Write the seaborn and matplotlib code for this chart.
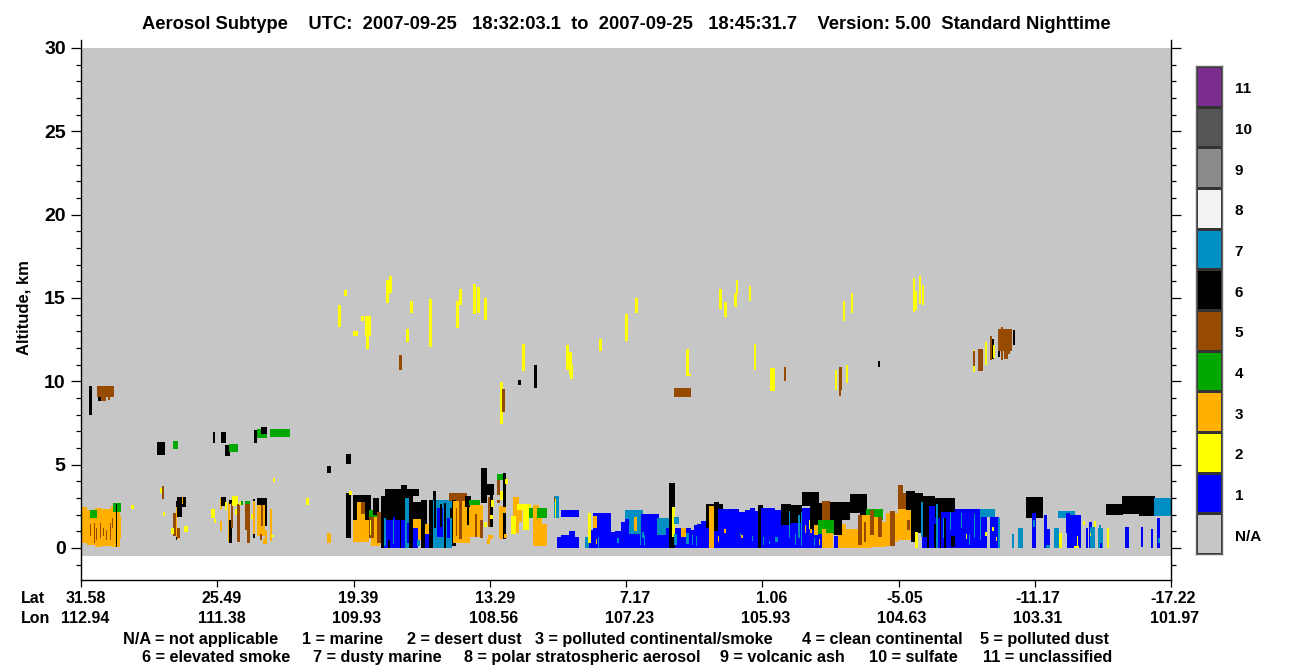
import numpy as np
import matplotlib
matplotlib.use("Agg")
import matplotlib.pyplot as plt
from matplotlib.colors import ListedColormap
from matplotlib.transforms import ScaledTranslation
import seaborn as sns

# one cell is one lidar profile across and one 60 m range bin up
N_PROFILES = 1090
TOP_BIN = 500
SURFACE_BINS = 8
BINS_PER_KM = 500 / 30

subtype_labels = ["N/A", "1", "2", "3", "4", "5", "6", "7", "8", "9", "10", "11"]
subtype_colors = ["#C6C6C6", "#0000FF", "#FFFF00", "#FFB000", "#00A800", "#964B00",
                  "#000000", "#008FC2", "#F2F2F2", "#8A8A8A", "#555555", "#7B2D90"]

lat_labels = ["31.58", "25.49", "19.39", "13.29", "7.17", "1.06", "-5.05", "-11.17", "-17.22"]
lon_labels = ["112.94", "111.38", "109.93", "108.56", "107.23", "105.93", "104.63", "103.31", "101.97"]
altitude_ticks = [0, 5, 10, 15, 20, 25, 30]

legend_row1 = ["N/A = not applicable", "1 = marine", "2 = desert dust",
               "3 = polluted continental/smoke", "4 = clean continental", "5 = polluted dust"]
legend_row2 = ["6 = elevated smoke", "7 = dusty marine", "8 = polar stratospheric aerosol",
               "9 = volcanic ash", "10 = sulfate", "11 = unclassified"]

# (subtype, first profile, last profile, base bin, top bin), later rows paint over earlier
upper_layers = [
    (2, 257, 260, 221, 243), (2, 263, 266, 252, 258), (2, 272, 277, 212, 217), (2, 280, 283, 227, 232),
    (2, 284, 290, 212, 232), (2, 285, 288, 199, 212), (2, 305, 308, 245, 268), (2, 308, 311, 255, 272),
    (5, 318, 321, 178, 193), (2, 325, 328, 206, 219), (2, 329, 332, 235, 247), (2, 348, 351, 201, 249),
    (2, 375, 378, 220, 247), (2, 378, 381, 243, 259), (2, 392, 395, 234, 264), (2, 396, 399, 235, 261),
    (2, 403, 406, 228, 250), (2, 419, 422, 124, 166), (5, 421, 424, 136, 159), (6, 437, 440, 163, 168),
    (2, 441, 444, 177, 204), (6, 453, 456, 160, 183), (2, 485, 488, 178, 203), (2, 488, 491, 173, 196),
    (2, 489, 492, 169, 183), (2, 518, 521, 197, 209), (2, 544, 547, 207, 234), (2, 554, 557, 235, 250),
    (2, 605, 608, 172, 199), (2, 608, 610, 172, 174), (5, 593, 610, 151, 160), (2, 638, 641, 239, 259),
    (2, 643, 646, 231, 246), (2, 653, 656, 241, 255), (2, 655, 657, 254, 268), (2, 668, 670, 247, 262),
    (2, 673, 675, 178, 204), (2, 689, 694, 157, 180), (5, 703, 705, 167, 181), (2, 754, 756, 158, 178),
    (5, 758, 761, 158, 181), (5, 758, 760, 152, 158), (2, 765, 767, 165, 183), (2, 762, 764, 227, 247),
    (2, 770, 772, 235, 255), (6, 797, 799, 181, 187), (2, 832, 834, 236, 270), (2, 834, 836, 238, 257),
    (2, 838, 840, 244, 272), (2, 841, 843, 243, 263), (2, 892, 894, 176, 198), (5, 892, 894, 182, 197),
    (5, 897, 902, 177, 199), (2, 904, 906, 183, 206), (5, 909, 911, 188, 212), (6, 911, 913, 189, 209),
    (2, 912, 914, 190, 203), (6, 917, 919, 191, 210), (5, 917, 931, 197, 219), (5, 920, 922, 188, 221),
    (5, 923, 929, 194, 219), (5, 923, 927, 189, 195), (6, 932, 934, 203, 218),
]

mid_layers = [
    (6, 8, 11, 133, 162), (6, 17, 21, 147, 161), (5, 16, 33, 151, 162), (5, 20, 25, 147, 151), (5, 27, 29, 148, 151),
    (6, 76, 84, 93, 106), (4, 92, 97, 99, 107), (6, 132, 134, 105, 116), (6, 140, 145, 105, 116),
    (6, 173, 176, 105, 118), (4, 176, 186, 110, 119), (6, 180, 186, 114, 121), (4, 189, 209, 111, 119),
    (6, 144, 149, 92, 103), (4, 148, 157, 96, 104), (6, 246, 250, 75, 82), (6, 265, 270, 84, 94),
]

west_layers = [
    (3, 0, 6, 5, 41), (3, 6, 14, 3, 38), (3, 14, 21, 1, 40), (3, 21, 30, 2, 39), (3, 30, 35, 1, 42),
    (3, 35, 39, 1, 44), (3, 39, 40, 10, 32), (4, 9, 16, 30, 38), (4, 32, 40, 36, 45),
    (5, 9, 10, 12, 24), (5, 13, 14, 5, 25), (5, 15, 16, 8, 20), (5, 19, 20, 10, 25), (5, 22, 23, 12, 20),
    (5, 25, 26, 8, 18), (5, 29, 30, 8, 25), (5, 31, 32, 20, 30), (6, 35, 36, 1, 44),
    (2, 50, 53, 39, 43), (2, 82, 84, 32, 36), (5, 81, 83, 49, 62), (2, 79, 81, 55, 60),
    (6, 95, 101, 31, 47), (6, 96, 105, 41, 51), (3, 101, 102, 44, 51), (3, 95, 96, 11, 41),
    (5, 92, 95, 12, 35), (3, 95, 99, 9, 20), (5, 96, 99, 10, 20), (2, 90, 93, 14, 20), (2, 103, 107, 16, 22),
    (6, 95, 96, 8, 11), (2, 130, 134, 30, 39), (2, 133, 135, 25, 29), (3, 139, 141, 17, 27),
    (3, 139, 141, 39, 50), (6, 140, 145, 42, 51), (2, 144, 146, 38, 46), (3, 147, 149, 6, 46),
    (6, 148, 151, 5, 28), (6, 148, 151, 44, 48), (5, 150, 152, 20, 45), (2, 151, 157, 42, 52),
    (2, 154, 156, 33, 39), (5, 156, 159, 6, 44), (2, 158, 160, 43, 46), (4, 160, 162, 43, 47),
    (4, 164, 169, 44, 47), (5, 164, 169, 18, 44), (5, 166, 169, 5, 18), (2, 170, 172, 29, 34),
    (6, 172, 174, 10, 49), (3, 172, 174, 14, 47), (6, 176, 186, 22, 50), (3, 176, 184, 12, 43),
    (5, 180, 182, 22, 43), (3, 184, 186, 4, 18), (3, 182, 186, 4, 9), (5, 179, 181, 8, 14), (3, 189, 191, 7, 39),
    (2, 190, 193, 11, 13), (2, 192, 194, 66, 70), (2, 225, 228, 43, 50), (3, 246, 250, 5, 15),
]

central_layers = [
    (6, 265, 270, 10, 55), (2, 268, 271, 53, 57), (6, 272, 290, 28, 53), (3, 276, 284, 18, 46),
    (3, 272, 288, 6, 28), (5, 280, 284, 34, 46), (6, 292, 298, 33, 50), (4, 288, 292, 31, 38), (4, 292, 296, 31, 33),
    (3, 290, 299, 2, 31), (5, 288, 293, 10, 31), (2, 289, 290, 13, 28), (5, 296, 300, 5, 36),
    (6, 300, 304, 0, 52), (6, 304, 338, 52, 59), (6, 320, 326, 59, 63), (6, 304, 332, 0, 52),
    (1, 303, 319, 0, 28), (7, 303, 305, 2, 30), (6, 307, 309, 0, 8), (1, 312, 314, 28, 31), (7, 312, 313, 4, 28),
    (7, 324, 328, 0, 50), (1, 320, 324, 0, 28), (1, 326, 328, 5, 25), (6, 328, 332, 0, 52), (6, 332, 340, 29, 46),
    (3, 332, 340, 18, 29), (1, 332, 337, 0, 20), (7, 336, 339, 2, 8), (3, 337, 340, 8, 18),
    (6, 340, 346, 0, 48), (3, 344, 348, 5, 24), (1, 344, 348, 0, 14), (6, 348, 352, 0, 48),
    (6, 352, 355, 0, 57), (6, 355, 371, 28, 48), (7, 352, 371, 0, 48), (1, 356, 362, 11, 40),
    (6, 359, 361, 21, 44), (6, 363, 365, 0, 45), (6, 353, 355, 20, 48), (1, 366, 369, 10, 30), (6, 369, 371, 30, 40),
    (5, 368, 386, 47, 55), (6, 371, 375, 2, 48), (3, 372, 384, 5, 47), (5, 378, 381, 9, 47), (5, 375, 376, 12, 40),
    (6, 384, 390, 23, 52), (3, 381, 389, 5, 41), (6, 386, 388, 23, 52), (4, 388, 399, 43, 48),
    (3, 389, 402, 11, 43), (5, 394, 396, 11, 34), (5, 399, 402, 10, 28), (6, 400, 406, 45, 80),
    (6, 406, 413, 53, 64), (5, 407, 409, 21, 51), (6, 409, 412, 21, 53), (2, 410, 413, 41, 48),
    (2, 409, 412, 29, 33), (2, 403, 406, 21, 26), (3, 407, 412, 9, 13), (3, 406, 409, 4, 9),
    (4, 416, 422, 68, 74), (5, 416, 419, 53, 68), (5, 416, 419, 45, 48), (2, 419, 422, 48, 57),
    (3, 418, 422, 9, 42), (6, 422, 425, 9, 75), (2, 424, 427, 64, 69), (3, 422, 425, 35, 41), (3, 423, 426, 10, 14),
    (3, 432, 438, 15, 51), (2, 430, 435, 14, 32), (2, 436, 450, 38, 44), (3, 438, 441, 26, 38),
    (2, 442, 448, 18, 38), (4, 448, 452, 30, 40), (3, 452, 458, 2, 43), (3, 458, 461, 2, 34), (3, 461, 466, 2, 24),
    (4, 456, 466, 30, 40), (7, 473, 478, 30, 52), (2, 474, 475, 30, 49), (5, 473, 474, 47, 51),
    (1, 480, 498, 31, 38), (1, 476, 498, 0, 11), (1, 480, 488, 0, 13), (1, 488, 494, 0, 17),
    (7, 504, 508, 0, 11), (1, 508, 512, 0, 18), (2, 507, 510, 5, 35),
]

marine_layers = [
    (1, 512, 530, 0, 35), (3, 512, 516, 20, 32), (1, 530, 534, 0, 16), (1, 534, 540, 0, 17), (1, 540, 544, 0, 26),
    (1, 544, 548, 0, 29), (7, 544, 562, 29, 38), (7, 548, 562, 14, 29), (1, 548, 560, 0, 14), (1, 560, 578, 0, 34),
    (3, 553, 556, 17, 31), (7, 561, 563, 10, 16), (7, 576, 588, 13, 30), (1, 578, 588, 0, 13), (1, 585, 588, 13, 20),
    (6, 588, 594, 0, 65), (2, 591, 594, 11, 41), (7, 593, 598, 24, 31), (1, 594, 600, 0, 20), (7, 593, 596, 3, 14),
    (3, 600, 605, 11, 20), (1, 600, 610, 0, 11), (1, 605, 610, 11, 20), (7, 605, 608, 4, 15), (1, 610, 613, 0, 18),
    (1, 613, 616, 0, 23), (1, 616, 620, 0, 24), (1, 620, 625, 0, 27), (6, 625, 633, 20, 44), (1, 625, 628, 0, 20),
    (3, 628, 633, 0, 42), (6, 633, 638, 17, 46), (1, 633, 658, 0, 17), (6, 638, 642, 38, 44), (1, 637, 658, 0, 39),
    (1, 658, 664, 0, 36), (1, 664, 669, 0, 38), (1, 669, 674, 0, 40), (1, 674, 677, 0, 37), (6, 677, 682, 0, 43),
    (1, 680, 694, 0, 40), (1, 694, 700, 0, 38), (1, 700, 721, 0, 25), (6, 700, 710, 23, 44), (6, 710, 721, 25, 43),
    (6, 721, 738, 42, 56), (1, 721, 729, 0, 40), (1, 729, 741, 0, 18), (6, 729, 741, 18, 45), (4, 737, 753, 14, 28),
    (5, 741, 749, 28, 47), (6, 749, 769, 28, 46), (6, 769, 786, 35, 54), (6, 753, 761, 13, 28), (1, 753, 757, 0, 12),
    (3, 733, 737, 13, 23), (3, 741, 745, 0, 19), (3, 745, 752, 0, 15), (3, 757, 761, 0, 13), (3, 761, 765, 0, 24),
    (3, 765, 789, 0, 19), (7, 517, 518, 0, 11), (7, 536, 538, 5, 10), (7, 559, 560, 3, 14), (7, 563, 564, 2, 13),
    (7, 611, 612, 3, 13), (7, 615, 616, 2, 12), (3, 515, 516, 4, 9), (3, 637, 638, 6, 12), (3, 643, 645, 15, 19),
    (3, 660, 662, 10, 13), (7, 659, 660, 12, 15), (7, 671, 672, 7, 12), (7, 682, 683, 3, 11), (7, 688, 689, 4, 7),
    (7, 694, 697, 6, 11), (7, 708, 709, 10, 37), (7, 714, 715, 3, 14), (7, 717, 719, 10, 33), (7, 720, 721, 2, 36),
    (3, 724, 725, 15, 23), (2, 728, 729, 19, 28), (3, 729, 731, 15, 19), (7, 733, 734, 2, 10), (3, 738, 739, 3, 9),
]

east_layers = [
    (6, 779, 786, 33, 54), (4, 785, 802, 28, 39), (3, 779, 790, 0, 33), (3, 790, 797, 1, 31), (3, 797, 805, 1, 26),
    (3, 805, 809, 2, 35), (5, 777, 781, 3, 33), (5, 783, 785, 6, 26), (5, 789, 793, 13, 38), (5, 797, 801, 11, 31),
    (5, 809, 814, 2, 37), (3, 814, 817, 6, 28), (5, 817, 822, 33, 63), (5, 822, 829, 38, 55), (3, 817, 831, 8, 39),
    (3, 814, 817, 14, 35), (5, 826, 829, 18, 28), (6, 825, 830, 38, 57), (6, 830, 834, 6, 57), (6, 834, 842, 41, 55),
    (6, 834, 846, 15, 45), (6, 842, 848, 0, 52), (2, 834, 837, 0, 16), (1, 841, 846, 0, 11), (7, 840, 842, 11, 46),
    (1, 848, 854, 0, 42), (6, 848, 854, 42, 52), (6, 854, 874, 30, 50), (1, 854, 860, 0, 30), (6, 853, 855, 0, 24),
    (7, 855, 857, 0, 44), (6, 859, 861, 0, 36), (1, 860, 874, 0, 36), (7, 862, 864, 10, 30), (6, 863, 865, 0, 30),
    (7, 869, 870, 18, 36), (6, 870, 874, 1, 12), (1, 874, 899, 0, 39), (1, 899, 906, 0, 36), (7, 899, 914, 31, 39),
    (1, 909, 918, 0, 31), (7, 917, 919, 0, 30), (2, 904, 906, 12, 16), (2, 911, 913, 17, 21), (2, 915, 916, 7, 11),
    (7, 880, 881, 20, 35), (7, 888, 889, 3, 14), (2, 885, 886, 9, 14), (7, 899, 900, 8, 32), (7, 893, 894, 10, 34),
    (7, 931, 933, 0, 14), (7, 937, 942, 0, 20), (6, 945, 962, 30, 51), (1, 951, 955, 0, 35), (7, 952, 954, 21, 28),
    (1, 963, 966, 0, 33), (1, 966, 969, 0, 19), (7, 965, 969, 0, 3), (7, 973, 978, 0, 20), (2, 978, 981, 0, 15),
    (7, 977, 994, 30, 37), (1, 985, 989, 15, 35), (1, 986, 1000, 0, 15), (1, 989, 1000, 15, 33), (2, 996, 997, 0, 12),
    (2, 993, 998, 0, 2), (2, 1002, 1004, 23, 27), (2, 1013, 1015, 21, 27), (1, 1005, 1007, 0, 20), (1, 1008, 1011, 0, 26),
    (7, 1009, 1014, 0, 21), (2, 1009, 1010, 12, 15), (7, 1017, 1022, 0, 20), (7, 1018, 1020, 20, 23), (1, 1019, 1021, 0, 5),
    (2, 1026, 1028, 0, 20), (6, 1025, 1042, 33, 44), (6, 1041, 1074, 34, 52), (6, 1058, 1074, 32, 52), (7, 1073, 1090, 32, 50),
    (1, 1044, 1048, 0, 21), (1, 1060, 1062, 1, 21), (1, 1070, 1072, 0, 19), (1, 1076, 1079, 0, 30), (7, 1077, 1079, 5, 10),
]

sns.set_style("ticks")
plt.rcParams["font.family"] = ["Liberation Sans", "DejaVu Sans"]
plt.rcParams["font.weight"] = "bold"
plt.rcParams["text.color"] = "black"
plt.rcParams["axes.labelcolor"] = "black"
plt.rcParams["xtick.color"] = "black"
plt.rcParams["ytick.color"] = "black"

W, H = 1300, 667
fig = plt.figure(figsize=(W / 100, H / 100), dpi=100)


def px_axes(left, top, right, bottom):
    return fig.add_axes([left / W, 1 - bottom / H, (right - left) / W, (bottom - top) / H])


# paint the curtain
grid = np.zeros((TOP_BIN + SURFACE_BINS, N_PROFILES), dtype=int)
for layers in [upper_layers, mid_layers, west_layers, central_layers, marine_layers, east_layers]:
    for subtype, p0, p1, b0, b1 in layers:
        grid[TOP_BIN - b1:TOP_BIN - b0, p0:p1] = subtype

cmap = ListedColormap(subtype_colors)
ax = px_axes(81, 40, 1171, 580)
sns.heatmap(grid, ax=ax, cmap=cmap, vmin=-0.5, vmax=11.5, cbar=False,
            xticklabels=False, yticklabels=False)
ax.set_xlim(0, N_PROFILES)
ax.set_ylim(TOP_BIN + 32, -8)

for side in ["left", "right", "bottom"]:
    ax.spines[side].set_visible(True)
    ax.spines[side].set_color("black")
    ax.spines[side].set_linewidth(1.0)
ax.spines["top"].set_visible(False)

major = [TOP_BIN - km * BINS_PER_KM for km in altitude_ticks]
minor = [TOP_BIN - km * BINS_PER_KM for km in range(-1, 31) if km % 5 != 0]
ax.set_yticks(major)
ax.set_yticklabels([str(km) for km in altitude_ticks], fontsize=14, rotation=0)
ax.set_yticks(minor, minor=True)
ax.tick_params(axis="y", which="major", length=7, width=0.9, left=True, right=True, pad=4)
ax.tick_params(axis="y", which="minor", length=3.5, width=0.9, left=True, right=True)
ax.set_ylabel("Altitude, km", fontsize=12, fontweight="bold")
ax.yaxis.set_label_coords(-49 / 1090, 0.505)

ax.set_xticks(np.linspace(0, N_PROFILES, len(lat_labels)))
ax.set_xticklabels([])
ax.tick_params(axis="x", length=5, width=0.9, bottom=True)

# two-row latitude / longitude labels under the axis, right edges sit past each tick
for i, (lat, lon) in enumerate(zip(lat_labels, lon_labels)):
    x_px = 81 + i * N_PROFILES / (len(lat_labels) - 1)
    fig.text((x_px + 25) / W, 1 - 603 / H, lat, ha="right", va="baseline", fontsize=11.5)
    fig.text((x_px + 28) / W, 1 - 623 / H, lon, ha="right", va="baseline", fontsize=11.5)
fig.text(21 / W, 1 - 603 / H, "Lat", ha="left", va="baseline", fontsize=11.5)
fig.text(21 / W, 1 - 623 / H, "Lon", ha="left", va="baseline", fontsize=11.5)

row1_left = [123, 302, 407, 535, 802, 980]
row2_left = [142, 313, 464, 720, 869, 983]
for label, x_px in zip(legend_row1, row1_left):
    fig.text(x_px / W, 1 - 644 / H, label, ha="left", va="baseline", fontsize=11.7)
for label, x_px in zip(legend_row2, row2_left):
    fig.text(x_px / W, 1 - 662 / H, label, ha="left", va="baseline", fontsize=11.7)

fig.text(626 / W, 1 - 29 / H,
         "Aerosol Subtype    UTC:  2007-09-25   18:32:03.1  to  2007-09-25   18:45:31.7    Version: 5.00  Standard Nighttime",
         ha="center", va="baseline", fontsize=13.2)

# color key on the right
key = np.arange(len(subtype_labels))[::-1].reshape(-1, 1)
cax = px_axes(1196, 66, 1222, 554)
sns.heatmap(key, ax=cax, cmap=cmap, vmin=-0.5, vmax=11.5, cbar=False,
            linewidths=0.8, linecolor="#333333", xticklabels=False,
            yticklabels=subtype_labels[::-1])
cax.yaxis.tick_right()
cax.tick_params(axis="y", length=0, pad=9, labelsize=11, labelrotation=0)
label_shift = ScaledTranslation(0, -1 / 72, fig.dpi_scale_trans)
for label in cax.get_yticklabels():
    label.set_transform(label.get_transform() + label_shift)
for side in cax.spines.values():
    side.set_visible(True)
    side.set_color("#666666")
    side.set_linewidth(1)

fig.savefig("out.png", dpi=100, facecolor="white")
